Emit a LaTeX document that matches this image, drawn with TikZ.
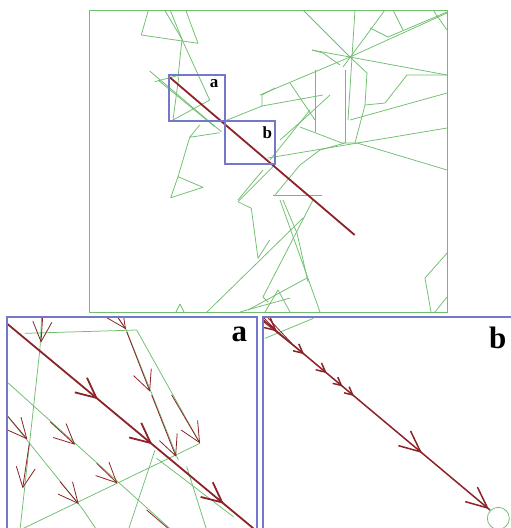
\documentclass[tikz,border=0pt]{standalone}
\usepackage{fontspec}
\setmainfont{Liberation Serif}
\usepackage{tikz}
\usetikzlibrary{arrows.meta,decorations.markings}
\definecolor{rayGreen}{RGB}{110,190,110}
\definecolor{rayRed}{RGB}{140,35,40}
\definecolor{boxBlue}{RGB}{115,120,200}

\begin{document}
\begin{tikzpicture}[x=1pt,y=-1pt,
  web/.style={rayGreen, line width=0.75pt, line join=round},
  hit/.style={rayRed, line width=0.8pt},
  barb/.style={-{Straight Barb[length=20pt,width=19pt]}},
  zoombox/.style={boxBlue, line width=1.5pt},
  tag/.style={inner sep=0pt, font=\bfseries}]
  \fill[white] (0,0) rectangle (511,528);
  \useasboundingbox (0,0) rectangle (511,528);

  % Overview panel
  \draw[web, line width=1pt] (89,10) rectangle (447,312);
  \begin{scope}
    \clip (89,10) rectangle (447,312);
    % left cluster
    \draw[web] (148.7,9) -- (141.3,35) -- (198,43.3) -- (185.3,9);
    \draw[web] (164,9) -- (182,39.3) -- (178,77.3);
    \draw[web] (169.7,9) -- (183,41.7) -- (209.7,100) -- (173,120) -- (178.7,77.3);
    \draw[web] (149.7,71) -- (221.3,131.7);
    \draw[web] (154.7,81.7) -- (176.3,76);
    \draw[web] (158,80) -- (214.7,126.7);
    \draw[web] (219.7,132.7) -- (189.7,137.3) -- (199.7,125);
    \draw[web] (189.7,137.3) -- (178,176.7) -- (170.7,197.7) -- (203,187.3) -- (178,176.7);
    \draw[web] (176,312) -- (180,304) -- (184,312);
    % upper right cluster
    \draw[web] (303,10) -- (350,57) -- (447,13);
    \draw[web] (355,10) -- (348,120);
    \draw[web] (385,10) -- (343,67);
    \draw[web] (370,28) -- (388,37) -- (447,12);
    \draw[web] (393,10) -- (403,30);
    \draw[web] (433,10) -- (447,30);
    \draw[web] (312,50) -- (447,75);
    \draw[web] (312,50) -- (323,53) -- (340,65);
    \draw[web] (260,95) -- (350,57);
    \draw[web] (350,57) -- (367,73) -- (365,105) -- (355,143);
    \draw[web] (365,105) -- (385,103) -- (407,75) -- (447,75);
    \draw[web] (315,70) -- (315,132);
    \draw[web] (290,83) -- (315,120);
    \draw[web] (350,120) -- (447,93);
    \draw[web] (345,70) -- (345,143);
    \draw[web] (224.7,121) -- (262,106) -- (262,95) -- (275,88);
    \draw[web] (262,106) -- (323,95);
    \draw[web] (300,127) -- (342,143) -- (357,143) -- (447,170);
    \draw[web] (268,158) -- (447,128);
    \draw[web] (310,110) -- (298,125) -- (270,160);
    \draw[web] (275,195) -- (300,165) -- (320,150) -- (345,143);
    \draw[web] (273,195) -- (322,195);
    \draw[web] (238,200) -- (263,170);
    \draw[web] (280,140) -- (305,118) -- (330,95);
    % lower middle
    \draw[web] (238,201.7) -- (251.3,208.3) -- (258,258.3) -- (269.7,240);
    \draw[web] (238,201.7) -- (274.7,165);
    \draw[web] (207,312) -- (303,218);
    \draw[web] (280,200) -- (320,312);
    \draw[web] (313,200) -- (263,297) -- (268,302);
    \draw[web] (283,200) -- (297,233) -- (308,282);
    \draw[web] (307,278) -- (248,310);
    \draw[web] (290,298) -- (240,312);
    \draw[web] (265,312) -- (278,290) -- (290,312);
    \draw[web] (448,252) -- (425,278) -- (431,312);
    \draw[web] (447,297) -- (435,312);
    % traced ray
    \draw[rayRed, line width=1.8pt] (169.7,77.3) -- (354.7,235);
  \end{scope}
  % zoom boxes
  \draw[zoombox] (169,75) rectangle (225,121);
  \draw[zoombox] (225,121) rectangle (275,164);
  \node[tag, font=\fontsize{17}{17}\selectfont\bfseries] (tagTopA) at (214,83.5) {a};
  \node[tag, font=\fontsize{17}{17}\selectfont\bfseries] (tagTopB) at (267.3,133) {b};

  % Detail a
  \begin{scope}[shift={(0,310)}, scale=1/3]
    \clip (20,22) rectangle (771,700);
    \draw[web] (75,70) -- (410,60) -- (600,400);
    \draw[web] (125,20) -- (120,115) -- (60,660);
    \draw[web] (20,215) -- (520,665);
    \draw[web] (20,315) -- (250,600) -- (290,660);
    \draw[web] (60,660) -- (600,400);
    \draw[web] (465,420) -- (385,660);
    \draw[web] (470,445) -- (700,620);
    \draw[web] (560,470) -- (620,660);
    \draw[web] (352,20) -- (378,58) -- (535,450);
    \draw[rayRed, line width=1.8pt, postaction={decorate},
      decoration={markings,
        mark=at position 0.37 with {\arrow{Straight Barb[length=20pt,width=19pt]}},
        mark=at position 0.59 with {\arrow{Straight Barb[length=20pt,width=19pt]}},
        mark=at position 0.88 with {\arrow{Straight Barb[length=20pt,width=19pt]}}}]
      (20,40) -- (760,655);
    \draw[hit, barb] (128,20) -- (123,98);
    \draw[hit, barb] (352,20) -- (378,58);
    \draw[hit, barb] (380,65) -- (450,245);
    \draw[hit, barb] (455,255) -- (528,440);
    \draw[hit, barb] (515,255) -- (600,400);
    \draw[hit, barb] (20,315) -- (82,388);
    \draw[hit, barb] (88,400) -- (68,535);
    \draw[hit, barb] (150,335) -- (225,404);
    \draw[hit, barb] (290,460) -- (352,520);
    \draw[hit, barb] (180,515) -- (236,582);
    \draw[hit] (440,600) -- (510,660);
  \end{scope}
  \draw[zoombox] (7,317) rectangle (257,540);
  \node[tag, font=\fontsize{31}{31}\selectfont\bfseries] (tagDetailA) at (239.3,334) {a};

  % Detail b
  \begin{scope}[shift={(255,310)}, scale=1/3]
    \clip (25,22) rectangle (800,700);
    \draw[web] (30,85) -- (175,25);
    \draw[web] (730,625) circle (33);
    \draw[hit] (25,22) -- (70,68);
    \draw[hit] (25,35) -- (150,135);
    \draw[hit] (40,25) -- (110,100);
    \draw[rayRed, line width=1.5pt, postaction={decorate},
      decoration={markings,
        mark=at position 0.06 with {\arrow{Straight Barb[length=12pt,width=12pt]}},
        mark=at position 0.18 with {\arrow{Straight Barb[length=9pt,width=9pt]}},
        mark=at position 0.28 with {\arrow{Straight Barb[length=9pt,width=9pt]}},
        mark=at position 0.35 with {\arrow{Straight Barb[length=8pt,width=8pt]}},
        mark=at position 0.40 with {\arrow{Straight Barb[length=8pt,width=8pt]}},
        mark=at position 0.70 with {\arrow{Straight Barb[length=21pt,width=19pt]}},
        mark=at position 0.995 with {\arrow{Straight Barb[length=21pt,width=19pt]}}}]
      (25,30) -- (705,600);
  \end{scope}
  \draw[zoombox] (263,317) rectangle (530,540);
  \node[tag, font=\fontsize{31}{31}\selectfont\bfseries] (tagDetailB) at (497.7,337.5) {b};
\end{tikzpicture}
\end{document}
